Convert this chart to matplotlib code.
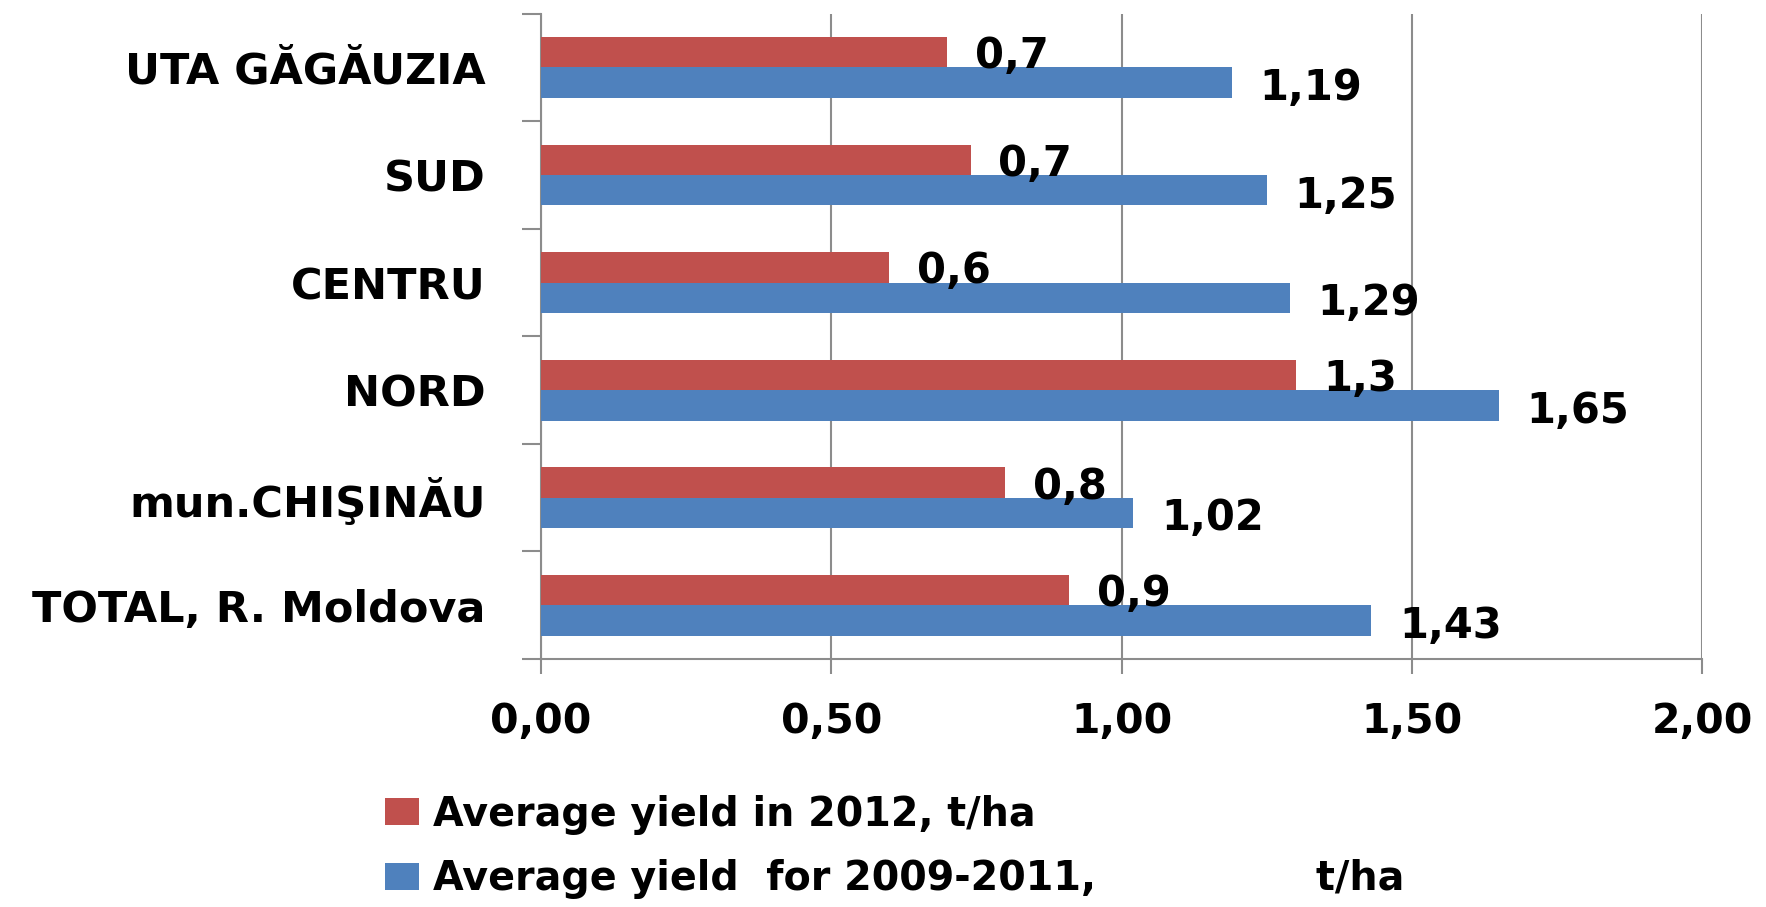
import matplotlib
matplotlib.use("Agg")
import matplotlib.pyplot as plt
import numpy as np

categories = ["TOTAL, R. Moldova", "mun.CHIŞINĂU", "NORD", "CENTRU", "SUD", "UTA GĂGĂUZIA"]
yield_2012 = [0.91, 0.80, 1.30, 0.60, 0.74, 0.70]
yield_2009_2011 = [1.43, 1.02, 1.65, 1.29, 1.25, 1.19]
labels_2012 = ["0,9", "0,8", "1,3", "0,6", "0,7", "0,7"]
labels_2009_2011 = ["1,43", "1,02", "1,65", "1,29", "1,25", "1,19"]
xticks = [0.0, 0.5, 1.0, 1.5, 2.0]
xtick_labels = ["0,00", "0,50", "1,00", "1,50", "2,00"]
legend_labels = ["Average yield in 2012, t/ha",
                 "Average yield  for 2009-2011," + " " * 16 + "t/ha"]

RED = "#C0504D"
BLUE = "#4F81BD"
GRID = "#8C8C8C"

plt.rcParams['font.family'] = ['DejaVu Sans']
plt.rcParams['font.weight'] = 'bold'

fig = plt.figure(figsize=(17.66, 9.07), dpi=100)
ax = fig.add_axes([0.3064, 0.2734, 0.9638 - 0.3064, 0.985 - 0.2734])

y = np.arange(len(categories))
h = 0.283
b_red = ax.barh(y + h / 2, yield_2012, height=h, color=RED, edgecolor="none", zorder=3)
b_blue = ax.barh(y - h / 2, yield_2009_2011, height=h, color=BLUE, edgecolor="none", zorder=3)

for yi, v, lab in zip(y, yield_2012, labels_2012):
    ax.annotate(lab, (v, yi + h / 2), xytext=(20, -3), textcoords="offset points",
                ha="left", va="center", fontsize=30, fontweight="bold", color="black", zorder=4)
for yi, v, lab in zip(y, yield_2009_2011, labels_2009_2011):
    ax.annotate(lab, (v, yi - h / 2), xytext=(20, -4), textcoords="offset points",
                ha="left", va="center", fontsize=30, fontweight="bold", color="black", zorder=4)

ax.set_xlim(0, 2.0)
ax.set_ylim(-0.5, len(categories) - 0.5)
ax.set_xticks(xticks)
ax.set_xticklabels(xtick_labels, fontsize=29.5, fontweight="bold")
ax.set_yticks(y)
ax.set_yticklabels(categories, fontsize=31, fontweight="bold")
ax.set_yticks(np.arange(-0.5, len(categories), 1.0), minor=True)
ax.tick_params(axis="y", which="major", length=0, pad=40)
ax.tick_params(axis="y", which="minor", length=14, width=1.5, color=GRID, direction="out")
ax.tick_params(axis="x", which="major", length=11, width=1.5, color=GRID, direction="out", pad=20)

ax.xaxis.grid(True, color=GRID, linewidth=1.5, zorder=0)
ax.set_axisbelow(True)
for s in ["top", "right"]:
    ax.spines[s].set_visible(False)
for s in ["left", "bottom"]:
    ax.spines[s].set_color(GRID)
    ax.spines[s].set_linewidth(1.5)

leg = ax.legend([b_red, b_blue], legend_labels, loc="upper left",
                bbox_to_anchor=(0.218, 0.124), bbox_transform=fig.transFigure,
                frameon=False, prop={"size": 28.5, "weight": "bold"},
                handlelength=0.86, handleheight=0.68, handletextpad=0.35,
                labelspacing=0.62, borderpad=0, borderaxespad=0)

fig.savefig("out.png", dpi=100, facecolor="white")
